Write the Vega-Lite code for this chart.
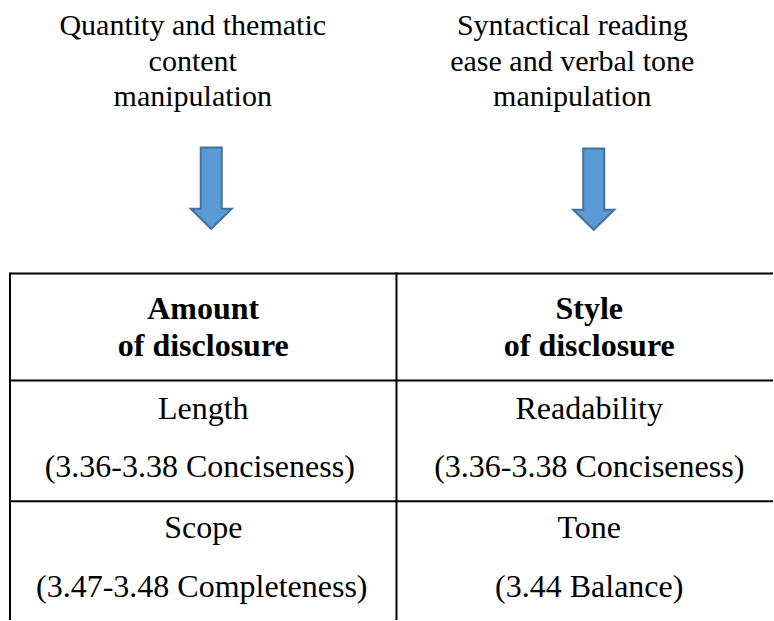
{
  "$schema": "https://vega.github.io/schema/vega-lite/v6.json",
  "width": 774,
  "height": 621,
  "autosize": {"type": "fit", "contains": "padding"},
  "padding": 0,
  "background": "white",
  "config": {"view": {"stroke": null}},
  "datasets": {
    "texts": [
      {"role": "caption", "x": 193, "y": 35, "label": "Quantity and thematic"},
      {"role": "caption", "x": 193, "y": 71, "label": "content"},
      {"role": "caption", "x": 193, "y": 106, "label": "manipulation"},
      {"role": "caption", "x": 573, "y": 35, "label": "Syntactical reading"},
      {"role": "caption", "x": 573, "y": 71, "label": "ease and verbal tone"},
      {"role": "caption", "x": 573, "y": 106, "label": "manipulation"},
      {"role": "header", "x": 203.5, "y": 320, "label": "Amount"},
      {"role": "header", "x": 203.5, "y": 357, "label": "of disclosure"},
      {"role": "header", "x": 590, "y": 320, "label": "Style"},
      {"role": "header", "x": 590, "y": 357, "label": "of disclosure"},
      {"role": "cell", "x": 203.5, "y": 420, "label": "Length"},
      {"role": "cell", "x": 200, "y": 478, "label": "(3.36-3.38 Conciseness)"},
      {"role": "cell", "x": 590, "y": 420, "label": "Readability"},
      {"role": "cell", "x": 590, "y": 478, "label": "(3.36-3.38 Conciseness)"},
      {"role": "cell", "x": 203.5, "y": 539, "label": "Scope"},
      {"role": "cell", "x": 202, "y": 598, "label": "(3.47-3.48 Completeness)"},
      {"role": "cell", "x": 590, "y": 539, "label": "Tone"},
      {"role": "cell", "x": 590, "y": 598, "label": "(3.44 Balance)"}
    ],
    "lines": [
      {"x1": 10, "y1": 274, "x2": 774, "y2": 274},
      {"x1": 10, "y1": 381, "x2": 774, "y2": 381},
      {"x1": 10, "y1": 502, "x2": 774, "y2": 502},
      {"x1": 10, "y1": 273, "x2": 10, "y2": 621},
      {"x1": 397, "y1": 273, "x2": 397, "y2": 621}
    ],
    "arrows": [
      {"x": 211.5, "y": 188.5},
      {"x": 594.5, "y": 189.5}
    ]
  },
  "encoding": {
    "x": {"field": "x", "type": "quantitative", "scale": {"domain": [0, 774], "nice": false, "zero": false}, "axis": null},
    "y": {"field": "y", "type": "quantitative", "scale": {"domain": [0, 621], "nice": false, "zero": false, "reverse": true}, "axis": null}
  },
  "layer": [
    {
      "data": {"name": "lines"},
      "mark": {"type": "rule", "color": "black", "strokeWidth": 2},
      "encoding": {
        "x": {"field": "x1", "type": "quantitative", "scale": {"domain": [0, 774], "nice": false, "zero": false}, "axis": null},
        "y": {"field": "y1", "type": "quantitative", "scale": {"domain": [0, 621], "nice": false, "zero": false, "reverse": true}, "axis": null},
        "x2": {"field": "x2"},
        "y2": {"field": "y2"}
      }
    },
    {
      "data": {"name": "arrows"},
      "mark": {
        "type": "point",
        "filled": true,
        "shape": "M-0.253,-0.98 L0.253,-0.98 L0.253,0.494 L0.494,0.494 L0,0.98 L-0.494,0.494 L-0.253,0.494 Z",
        "size": 6889,
        "fill": "#5B9BD5",
        "fillOpacity": 1,
        "stroke": "#41719C",
        "strokeWidth": 2,
        "opacity": 1
      }
    },
    {
      "data": {"name": "texts"},
      "transform": [{"filter": "datum.role === 'caption'"}],
      "mark": {"type": "text", "font": "Liberation Serif", "fontSize": 30, "align": "center", "baseline": "alphabetic", "color": "black"},
      "encoding": {"text": {"field": "label"}}
    },
    {
      "data": {"name": "texts"},
      "transform": [{"filter": "datum.role === 'header'"}],
      "mark": {"type": "text", "font": "Liberation Serif", "fontSize": 32, "fontWeight": "bold", "align": "center", "baseline": "alphabetic", "color": "black"},
      "encoding": {"text": {"field": "label"}}
    },
    {
      "data": {"name": "texts"},
      "transform": [{"filter": "datum.role === 'cell'"}],
      "mark": {"type": "text", "font": "Liberation Serif", "fontSize": 32, "align": "center", "baseline": "alphabetic", "color": "black"},
      "encoding": {"text": {"field": "label"}}
    }
  ]
}
